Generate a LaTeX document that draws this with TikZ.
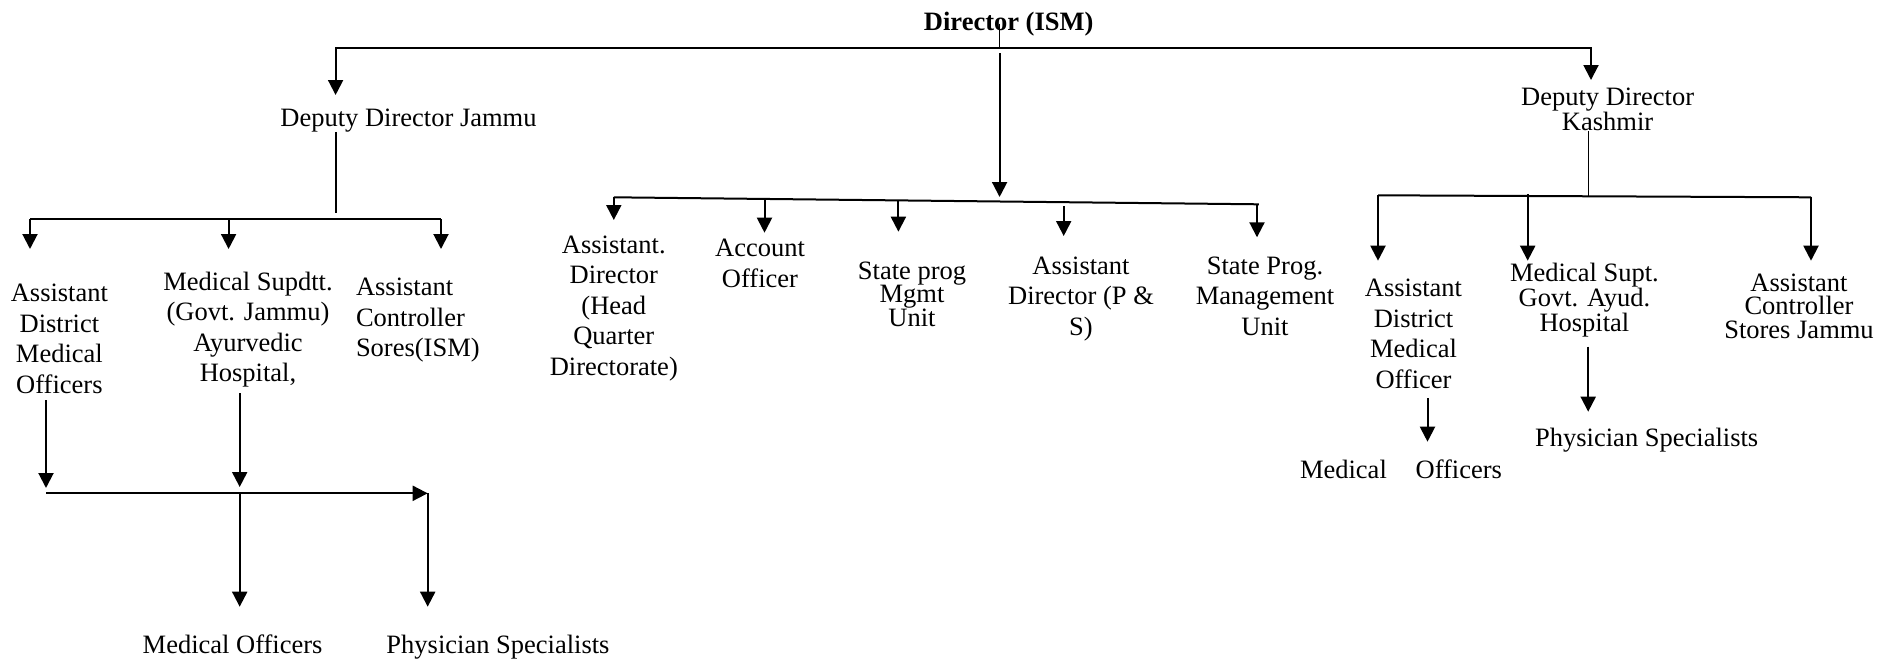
\documentclass[tikz,border=0pt]{standalone}
\usepackage{fontspec}
\setmainfont{Liberation Serif}
\usetikzlibrary{arrows.meta}
\begin{document}
\begin{tikzpicture}[x=1pt,y=-1pt,
  lbl/.style={inner sep=0pt, align=center, font=\fontsize{26.5}{30.5}\selectfont, anchor=base},
  lblt/.style={lbl, font=\fontsize{26.5}{23.5}\selectfont},
  ln/.style={line width=2pt},
  lnthin/.style={line width=1.5pt},
  arr/.style={ln, -{Triangle[length=15pt,width=15pt]}}]
\useasboundingbox (0,0) rectangle (1893,665);

% ---------- nodes (y = baseline of last line) ----------
\node[lbl, font=\bfseries\fontsize{26.5}{30.5}\selectfont] (dir) at (1008.7,30) {Director (ISM)};
\node[lbl] (ddj) at (408.5,126) {Deputy Director Jammu};
\node[lblt] (ddk) at (1607.6,130.7) {Deputy Director\\Kashmir};

\node[lbl] (admoJ) at (59.4,393.3) {Assistant\\District\\Medical\\Officers};
\node[lbl] (msJ) at (248,381.7) {Medical Supdtt.\\(Govt. Jammu)\\Ayurvedic\\Hospital,};
\node[lbl, align=left, anchor=base west] (acsJ) at (355.8,356.7) {Assistant\\Controller\\Sores(ISM)};
\node[lbl] (moJ) at (232.6,653) {Medical Officers};
\node[lbl] (psJ) at (498,653) {Physician Specialists};

\node[lbl] (adhq) at (613.8,375) {Assistant.\\Director\\(Head\\Quarter\\Directorate)};
\node[lbl] (ao) at (760,287.3) {Account\\Officer};
\node[lblt] (spmu) at (912,326) {State prog\\Mgmt\\Unit};
\node[lbl] (adps) at (1081,335) {Assistant\\Director (P \&\\S)};
\node[lbl] (spm) at (1265,335) {State Prog.\\Management\\Unit};

\node[lbl] (admoK) at (1413.5,388.3) {Assistant\\District\\Medical\\Officer};
\node[lbl] (moK) at (1401,478.3) {Medical\hspace{28.8pt}Officers};
\node[lblt] (msK) at (1584.4,331.7) {Medical Supt.\\Govt. Ayud.\\Hospital};
\node[lbl] (psK) at (1646.7,446.7) {Physician Specialists};
\node[lblt] (acsK) at (1799,338.3) {Assistant\\Controller\\Stores Jammu};

% ---------- coordinates ----------
\coordinate (jt) at (999.6,47.7);
\coordinate (ddjin) at (335.6,95);
\coordinate (ddkin) at (1591,80);
\coordinate (cst) at (999.6,53.3);
\coordinate (cin) at (999.6,197);

\coordinate (jbar) at (336,213);
\coordinate (jl) at (30,219);
\coordinate (jm) at (228.6,219);
\coordinate (jr) at (441,219);

\coordinate (ma) at (613.8,197.3);
\coordinate (mb) at (764.5,198.9);
\coordinate (mc) at (898.4,200.4);
\coordinate (md) at (1063.7,206);
\coordinate (me) at (1258.8,204.3);

\coordinate (kv) at (1588.3,196);
\coordinate (kl) at (1378,195.3);
\coordinate (km) at (1527.7,194);
\coordinate (kr) at (1811,197.3);

\coordinate (la) at (46,400);
\coordinate (lb) at (239.7,393.3);
\coordinate (hl) at (46,493.3);
\coordinate (hm) at (239.7,493.3);
\coordinate (hr) at (427.7,493.3);

% ---------- connectors ----------
\draw[lnthin] (dir.center -| jt) -- (jt);
\draw[arr] (jt) -| (ddjin);
\draw[arr] (jt) -| (ddkin);
\draw[arr] (cst) -- (cin);

% Jammu branch
\draw[lnthin] (ddj.south -| jbar) -- (jbar);
\draw[ln] (jl) -- (jr);
\draw[arr] (jl) -- (jl |- 0,249);
\draw[arr] (jm) -- (jm |- 0,249);
\draw[arr] (jr) -- (jr |- 0,249);

\draw[arr] (la) -- (46,488);
\draw[arr] (lb) -- (239.7,487);
\draw[arr] (hl) -- (hr);
\draw[arr] (hm) -- (239.7,606.7);
\draw[arr] (hr) -- (427.7,606.7);

% Middle branch
\draw[ln] (ma) -- (me);
\draw[arr] (ma) -- (613.8,220);
\draw[arr] (mb) -- (764.5,232.7);
\draw[arr] (mc) -- (898.4,231.7);
\draw[arr] (md) -- (1063.7,236);
\draw[arr] (1257,204.3) -- (1257,237.3);

% Kashmir branch
\draw[lnthin] (ddk.south -| kv) -- (kv);
\draw[ln] (kl) -- (kr);
\draw[arr] (kl) -- (1378,260.7);
\draw[arr] (km) -- (1527.7,260.7);
\draw[arr] (kr) -- (1811,260.7);
\draw[arr] (1427.5,398.3) -- (1427.5,441.7);
\draw[arr] (1588.2,346.7) -- (1588.2,411.7);
\end{tikzpicture}
\end{document}
